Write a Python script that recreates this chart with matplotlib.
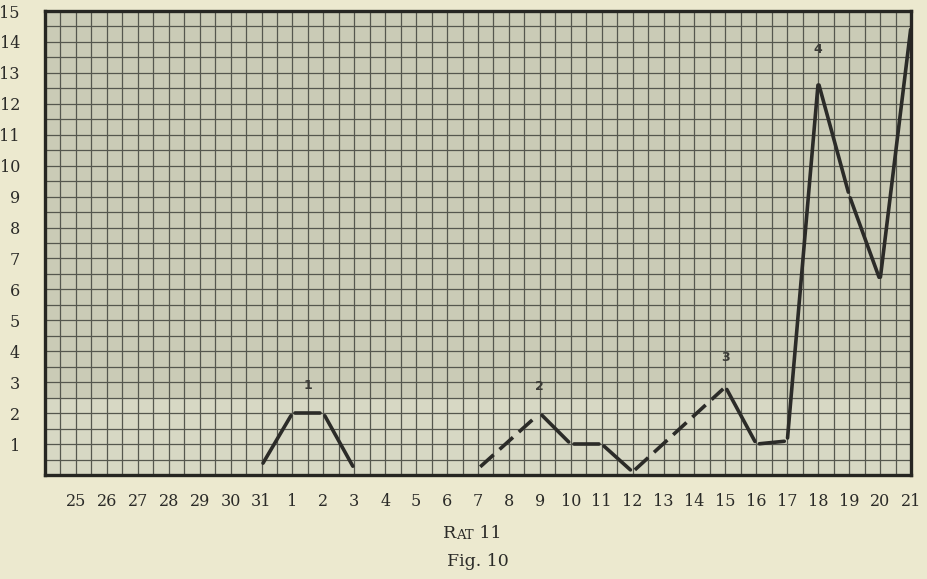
import numpy as np
import matplotlib.pyplot as plt

# day labels along the bottom (end of one month into the next)
day_labels = ['25', '26', '27', '28', '29', '30', '31'] + [str(d) for d in range(1, 22)]

# readings, by day label
point_days = ['31', '1', '2', '3', '7', '9', '10', '11', '12', '15', '16', '17', '18', '19', '20', '21']
point_values = [0.3, 2.0, 2.0, 0.2, 0.2, 2.0, 1.0, 1.0, 0.1, 2.85, 1.0, 1.1, 12.7, 9.05, 6.3, 14.5]

# which neighbouring readings are joined, and how
segments = [('31', '1', '-'), ('1', '2', '-'), ('2', '3', '-'),
            ('7', '9', '--'), ('9', '10', '-'), ('10', '11', '-'), ('11', '12', '-'),
            ('12', '15', '--'), ('15', '16', '-'), ('16', '17', '-'), ('17', '18', '-'),
            ('18', '19', '-'), ('19', '20', '-'), ('20', '21', '-')]

# little hand-written numbers over the peaks
note_text = ['1', '2', '3', '4']
note_x = [7.5, 15, 21, 24]
note_y = [2.9, 2.85, 3.8, 13.75]

paper = '#ece9cf'
sheet = '#cacbb6'
sheet_light = '#d7d8c4'
rule = '#55574e'
ink = '#2b2b28'

fig = plt.figure(figsize=(9.28, 5.79), dpi=100, facecolor=paper)
ax = fig.add_axes([45 / 928, 1 - 475 / 579, 866 / 928, 464 / 579])
ax.set_facecolor(sheet)

xpos = {d: i for i, d in enumerate(day_labels)}
ax.set_xlim(-1, len(day_labels) - 1)
ax.set_ylim(0, 15)

# lighter bottom band of the sheet
ax.axhspan(0, 2.5, color=sheet_light, zorder=0)

# graph paper rulings, half a unit apart
for gx in np.arange(-1, len(day_labels) - 1 + 0.01, 0.5):
    ax.axvline(gx, color=rule, lw=0.9, zorder=1)
for gy in np.arange(0, 15.01, 0.5):
    ax.axhline(gy, color=rule, lw=0.9, zorder=1)

# pixels per data unit (same on both axes here)
unit_px = 866 / len(day_labels)

vals = dict(zip(point_days, point_values))
for a, b, ls in segments:
    x0, y0 = xpos[a], vals[a]
    x1, y1 = xpos[b], vals[b]
    # the pen lifts a little at each corner (about 3 px)
    seg_px = unit_px * np.hypot(x1 - x0, y1 - y0)
    s = 3.0 / seg_px
    xs = [x0 + (x1 - x0) * s, x1 - (x1 - x0) * s]
    ys = [y0 + (y1 - y0) * s, y1 - (y1 - y0) * s]
    if ls == '--':
        ax.plot(xs, ys, color=ink, lw=2.6, ls=(0, (5, 2.2)), solid_capstyle='butt', zorder=3)
    else:
        ax.plot(xs, ys, color=ink, lw=2.6, solid_capstyle='round', zorder=3)

for t, x, y in zip(note_text, note_x, note_y):
    ax.text(x, y, t, ha='center', va='center', fontsize=9, fontweight='bold',
            color='#3a3a36', family='DejaVu Sans', zorder=4)

for sp in ax.spines.values():
    sp.set_linewidth(2.4)
    sp.set_color('#262622')
    sp.set_zorder(5)

ax.set_xticks(range(len(day_labels)))
ax.set_xticklabels(day_labels)
ax.set_yticks(range(1, 16))
ax.set_yticklabels([str(v) for v in range(1, 16)])
ax.tick_params(length=0)
ax.tick_params(axis='x', pad=13)
ax.tick_params(axis='y', pad=18)
for lab in ax.get_xticklabels() + ax.get_yticklabels():
    lab.set_family('DejaVu Serif')
    lab.set_fontsize(11.5)
    lab.set_color(ink)

# caption with small caps "Rat"
r = fig.text(443 / 928, 1 - 542 / 579, 'R', fontsize=12.5, family='DejaVu Serif',
             color=ink, ha='left', va='bottom')
at = ax.annotate('AT', xy=(1, 0), xycoords=r, fontsize=9.5, family='DejaVu Serif',
                 color=ink, ha='left', va='bottom', annotation_clip=False)
ax.annotate(' 11', xy=(1, 0), xycoords=at, fontsize=12.5, family='DejaVu Serif',
            color=ink, ha='left', va='bottom', annotation_clip=False)
fig.text(478 / 928, 1 - 566 / 579, 'Fig. 10', fontsize=12.5, family='DejaVu Serif',
         color=ink, ha='center', va='baseline')

fig.savefig('out.png', dpi=100, facecolor=paper)
